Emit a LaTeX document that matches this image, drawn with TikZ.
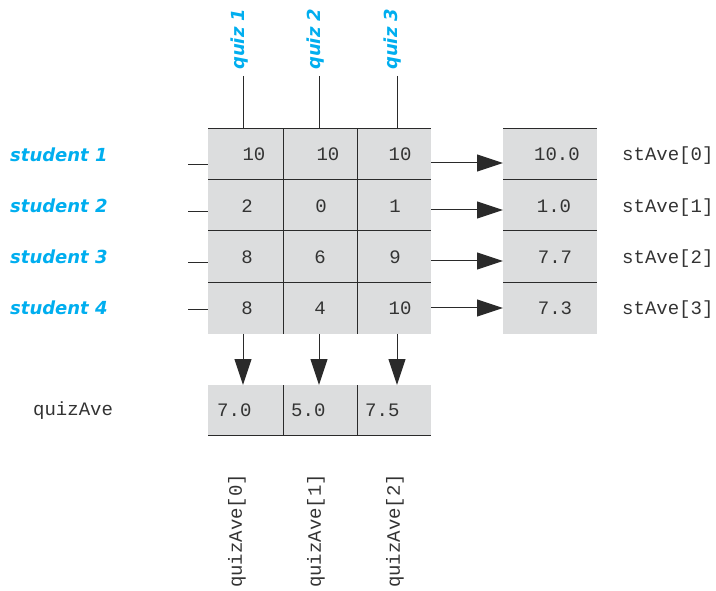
\documentclass[tikz,border=0pt]{standalone}
\usepackage{fontspec}
\usetikzlibrary{arrows.meta}
\newfontfamily\handfont{DejaVu Sans}
\newfontfamily\codefont{Liberation Mono}
\definecolor{cellgray}{HTML}{DCDDDE}
\definecolor{lblue}{HTML}{00AEEF}
\definecolor{lineg}{HTML}{2A2A2A}
\begin{document}
\begin{tikzpicture}[x=1pt,y=-1pt,
  hand/.style={font=\handfont\bfseries\itshape\fontsize{18}{20}\selectfont, text=lblue, inner sep=0pt},
  code/.style={font=\codefont\fontsize{19}{21}\selectfont, text=black!80, inner sep=0pt},
  ln/.style={draw=lineg, line width=1pt},
  arr/.style={draw=lineg, line width=1pt, -{Triangle[length=26pt,width=17pt]}}]
\useasboundingbox (0,0) rectangle (716,591);
% main grid
\fill[cellgray] (208,129) rectangle (431,334);
\foreach \y in {129,180,231,283} \draw[ln] (208,\y) -- (431,\y);
\foreach \x in {283,357} \draw[ln] (\x,129) -- (\x,334);
% stAve array
\fill[cellgray] (503,129) rectangle (597,334);
\foreach \y in {129,180,231,283} \draw[ln] (503,\y) -- (597,\y);
% quizAve array
\fill[cellgray] (208,385) rectangle (431,435);
\draw[ln] (208,435) -- (431,435);
\foreach \x in {283,357} \draw[ln] (\x,385) -- (\x,435);
% grid values
\node[code] (g11) at (254,154) {10};
\node[code] (g12) at (328,154) {10};
\node[code] (g13) at (400,154) {10};
\node[code] (g21) at (247,206) {2};
\node[code] (g22) at (321,206) {0};
\node[code] (g23) at (395,206) {1};
\node[code] (g31) at (247,257) {8};
\node[code] (g32) at (320,257) {6};
\node[code] (g33) at (395,257) {9};
\node[code] (g41) at (247,308) {8};
\node[code] (g42) at (320,308) {4};
\node[code] (g43) at (400,308) {10};
% stAve values
\node[code] (s0) at (557,154) {10.0};
\node[code] (s1) at (554,206) {1.0};
\node[code] (s2) at (555,257) {7.7};
\node[code] (s3) at (555,308) {7.3};
\node[code,anchor=west] (sl0) at (622,156) {stAve[0]};
\node[code,anchor=west] (sl1) at (622,208) {stAve[1]};
\node[code,anchor=west] (sl2) at (622,259) {stAve[2]};
\node[code,anchor=west] (sl3) at (622,310) {stAve[3]};
% quizAve values
\node[code,anchor=west] (q0) at (217,410) {7.0};
\node[code,anchor=west] (q1) at (291,410) {5.0};
\node[code,anchor=west] (q2) at (365,410) {7.5};
\node[code,anchor=west] (qa) at (33,411) {quizAve};
\node[code,anchor=west,rotate=90] (ql0) at (237,588) {quizAve[0]};
\node[code,anchor=west,rotate=90] (ql1) at (316,588) {quizAve[1]};
\node[code,anchor=west,rotate=90] (ql2) at (395,588) {quizAve[2]};
% student labels
\node[hand,anchor=west] (st1) at (10,155) {student 1};
\node[hand,anchor=west] (st2) at (10,206) {student 2};
\node[hand,anchor=west] (st3) at (10,257) {student 3};
\node[hand,anchor=west] (st4) at (10,308) {student 4};
% quiz labels
\node[hand,anchor=west,rotate=90] (qz1) at (240,70) {quiz 1};
\node[hand,anchor=west,rotate=90] (qz2) at (316,70) {quiz 2};
\node[hand,anchor=west,rotate=90] (qz3) at (393,70) {quiz 3};
% quiz ticks
\coordinate (c1t) at (243,76); \coordinate (c1b) at (243,129);
\coordinate (c2t) at (319,76); \coordinate (c2b) at (319,129);
\coordinate (c3t) at (397,76); \coordinate (c3b) at (397,129);
\draw[ln] (c1t) -- (c1b);
\draw[ln] (c2t) -- (c2b);
\draw[ln] (c3t) -- (c3b);
% student ticks
\foreach \y [count=\i] in {165,212,263,310} {
  \coordinate (l\i a) at (188,\y); \coordinate (l\i b) at (208,\y);
  \draw[ln] (l\i a) -- (l\i b);
}
% right arrows
\foreach \y [count=\i] in {163,210,261,308} {
  \coordinate (r\i a) at (431,\y); \coordinate (r\i b) at (503,\y);
  \draw[arr] (r\i a) -- (r\i b);
}
% down arrows
\foreach \x [count=\i] in {243,319,397} {
  \coordinate (d\i a) at (\x,334); \coordinate (d\i b) at (\x,385);
  \draw[arr] (d\i a) -- (d\i b);
}
\end{tikzpicture}
\end{document}
